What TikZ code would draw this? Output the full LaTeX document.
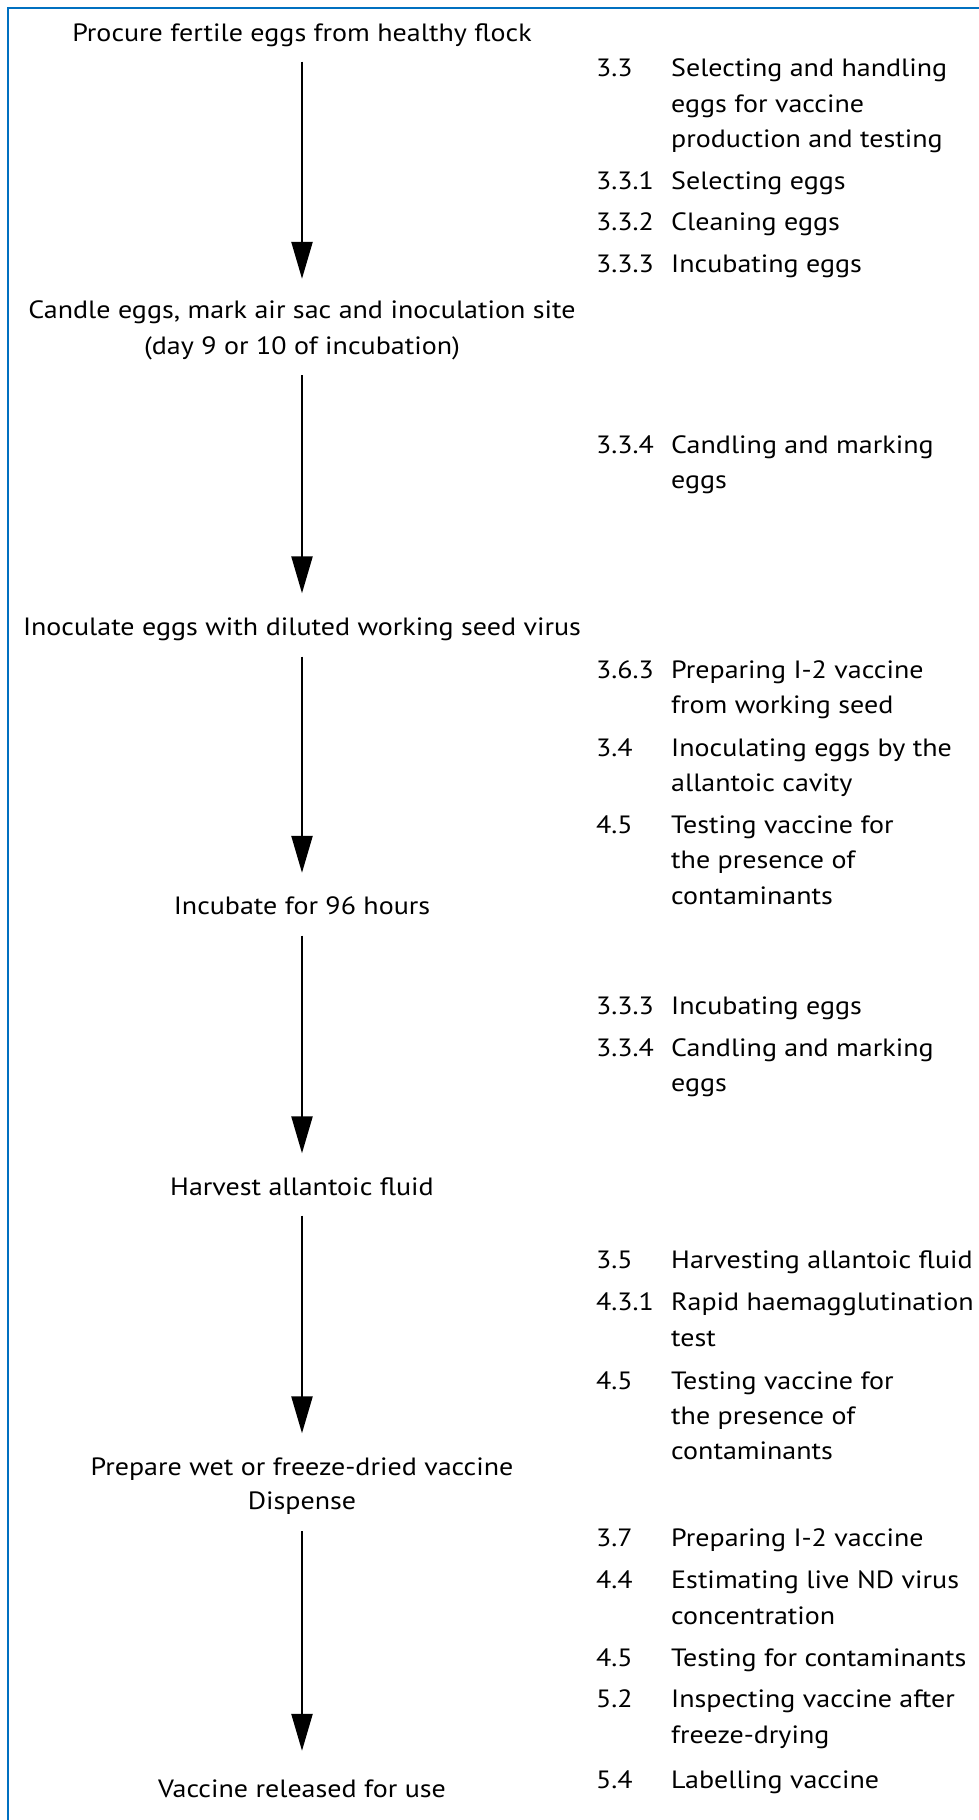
\documentclass[tikz,border=0pt]{standalone}
\usepackage{fontspec}
\setmainfont[FakeStretch=1.12]{PT Sans}
\usetikzlibrary{arrows.meta}
\definecolor{frameblue}{RGB}{0,112,192}
\tikzset{
  stage/.style={inner sep=0pt, text height=0pt, text depth=0pt, anchor=base, font=\fontsize{25}{30}\selectfont},
  refnum/.style={inner sep=0pt, anchor=base west, font=\fontsize{25}{30}\selectfont},
  reftxt/.style={inner sep=0pt, anchor=base west, font=\fontsize{25}{30}\selectfont},
  flow/.style={line width=2.4pt, -{Triangle[width=21pt,length=37pt]}},
  frame/.style={draw=frameblue, line width=2.4pt}
}
\begin{document}
\begin{tikzpicture}[x=1pt,y=-1pt]
\useasboundingbox (0,0) rectangle (979,1820);
\draw[frame] (8,1821) -- (8,8) -- (980,8);
% left stages
\node[stage] (s1) at (302,41.5) {Procure fertile eggs from healthy flock};
\node[stage] (s2a) at (302,318) {Candle eggs, mark air sac and inoculation site};
\node[stage] (s2b) at (302,354) {(day 9 or 10 of incubation)};
\node[stage] (s3) at (302,635) {Inoculate eggs with diluted working seed virus};
\node[stage] (s4) at (302,914.5) {Incubate for 96 hours};
\node[stage] (s5) at (302,1195) {Harvest allantoic fluid};
\node[stage] (s6a) at (302,1475) {Prepare wet or freeze-dried vaccine};
\node[stage] (s6b) at (302,1509.5) {Dispense};
\node[stage] (s7) at (302,1797) {Vaccine released for use};
% arrows
\draw[flow, shorten <=19.5pt, shorten >=38.5pt] (s1.south) -- (s2a.north);
\draw[flow, shorten <=20.5pt, shorten >=41pt] (s2b.south) -- (s3.north);
\draw[flow, shorten <=21pt, shorten >=41pt] (s3.south) -- (s4.north);
\draw[flow, shorten <=20.5pt, shorten >=41pt] (s4.south) -- (s5.north);
\draw[flow, shorten <=20pt, shorten >=41pt] (s5.south) -- (s6a.north);
\draw[flow, shorten <=21pt, shorten >=45.5pt] (s6b.south) -- (s7.north);
% group 1
\node[refnum] (n11) at (596,76.5) {3.3};
\node[reftxt] (t11a) at (671,76.5) {Selecting and handling};
\node[reftxt] (t11b) at (671,112) {eggs for vaccine};
\node[reftxt] (t11c) at (671,147.5) {production and testing};
\node[refnum] (n12) at (596,189.5) {3.3.1};
\node[reftxt] (t12) at (671,189.5) {Selecting eggs};
\node[refnum] (n13) at (596,230.5) {3.3.2};
\node[reftxt] (t13) at (671,230.5) {Cleaning eggs};
\node[refnum] (n14) at (596,272) {3.3.3};
\node[reftxt] (t14) at (671,272) {Incubating eggs};
% group 2
\node[refnum] (n21) at (596,453) {3.3.4};
\node[reftxt] (t21a) at (671,453) {Candling and marking};
\node[reftxt] (t21b) at (671,488) {eggs};
% group 3
\node[refnum] (n31) at (596,678.5) {3.6.3};
\node[reftxt] (t31a) at (671,678.5) {Preparing I-2 vaccine};
\node[reftxt] (t31b) at (671,713.8) {from working seed};
\node[refnum] (n32) at (596,756) {3.4};
\node[reftxt] (t32a) at (671,756) {Inoculating eggs by the};
\node[reftxt] (t32b) at (671,791.3) {allantoic cavity};
\node[refnum] (n33) at (596,833.5) {4.5};
\node[reftxt] (t33a) at (671,833.5) {Testing vaccine for};
\node[reftxt] (t33b) at (671,868.8) {the presence of};
\node[reftxt] (t33c) at (671,904) {contaminants};
% group 4
\node[refnum] (n41) at (596,1014) {3.3.3};
\node[reftxt] (t41) at (671,1014) {Incubating eggs};
\node[refnum] (n42) at (596,1056.5) {3.3.4};
\node[reftxt] (t42a) at (671,1056.5) {Candling and marking};
\node[reftxt] (t42b) at (671,1091.5) {eggs};
% group 5
\node[refnum] (n51) at (596,1268.5) {3.5};
\node[reftxt] (t51) at (671,1268.5) {Harvesting allantoic fluid};
\node[refnum] (n52) at (596,1310.5) {4.3.1};
\node[reftxt] (t52a) at (671,1310.5) {Rapid haemagglutination};
\node[reftxt] (t52b) at (671,1346) {test};
\node[refnum] (n53) at (596,1389) {4.5};
\node[reftxt] (t53a) at (671,1389) {Testing vaccine for};
\node[reftxt] (t53b) at (671,1424) {the presence of};
\node[reftxt] (t53c) at (671,1459) {contaminants};
% group 6
\node[refnum] (n61) at (596,1546.5) {3.7};
\node[reftxt] (t61) at (671,1546.5) {Preparing I-2 vaccine};
\node[refnum] (n62) at (596,1588.5) {4.4};
\node[reftxt] (t62a) at (671,1588.5) {Estimating live ND virus};
\node[reftxt] (t62b) at (671,1624) {concentration};
\node[refnum] (n63) at (596,1666) {4.5};
\node[reftxt] (t63) at (671,1666) {Testing for contaminants};
\node[refnum] (n64) at (596,1707.5) {5.2};
\node[reftxt] (t64a) at (671,1707.5) {Inspecting vaccine after};
\node[reftxt] (t64b) at (671,1743.5) {freeze-drying};
\node[refnum] (n65) at (596,1788) {5.4};
\node[reftxt] (t65) at (671,1788) {Labelling vaccine};
\end{tikzpicture}
\end{document}
